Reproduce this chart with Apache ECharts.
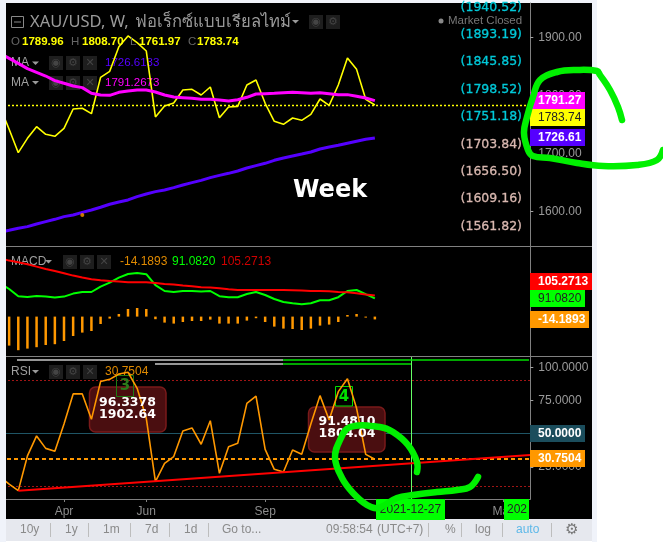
<!DOCTYPE html>
<html><head><meta charset="utf-8">
<style>
html,body{margin:0;padding:0;background:#fff;width:663px;height:542px;overflow:hidden}
#top{position:absolute;left:0;top:0;width:597px;height:3px;background:#f0f3fa}
#rgt{position:absolute;left:592px;top:0;width:5px;height:542px;background:#f0f3fa}
#blk{position:absolute;left:6px;top:3px;width:586px;height:516px;background:#000}
#bar{position:absolute;left:6px;top:519px;width:586px;height:22px;background:#e6e8ee}
#c{position:absolute;left:0;top:0;width:663px;height:542px}
</style></head><body>
<div id="top"></div><div id="rgt"></div><div id="blk"></div><div id="bar"></div>
<div id="c"></div>
<script src="https://cdn.jsdelivr.net/npm/echarts@6/dist/echarts.min.js"></script>
<script>
const weeks=['2021-02-15','2021-02-22','2021-03-01','2021-03-08','2021-03-15','2021-03-22','2021-03-29','2021-04-05','2021-04-12','2021-04-19','2021-04-26','2021-05-03','2021-05-10','2021-05-17','2021-05-24','2021-05-31','2021-06-07','2021-06-14','2021-06-21','2021-06-28','2021-07-05','2021-07-12','2021-07-19','2021-07-26','2021-08-02','2021-08-09','2021-08-16','2021-08-23','2021-08-30','2021-09-06','2021-09-13','2021-09-20','2021-09-27','2021-10-04','2021-10-11','2021-10-18','2021-10-25','2021-11-01','2021-11-08','2021-11-15','2021-11-22','2021-11-29','2021-12-06','2021-12-13','2021-12-20','2021-12-27','2022-01-03','2022-01-10','2022-01-17','2022-01-24','2022-01-31','2022-02-07','2022-02-14','2022-02-21','2022-02-28','2022-03-07','2022-03-14','2022-03-21','2022-03-28'];
const monthTicks={'2021-04-05':'Apr','2021-06-07':'Jun','2021-09-06':'Sep','2022-03-07':'Mar'};
const closeW=[1780.8,1741.7,1701.3,1726.1,1746.3,1733,1729.6,1743.4,1776.8,1778,1768.7,1831.5,1841.9,1884.5,1903,1891.4,1877,1763,1782,1787.2,1809.6,1810.8,1801,1814.8,1761.8,1780.2,1781.4,1818.3,1826.9,1786.6,1755.5,1750.3,1761.2,1757.2,1767.6,1794.1,1783.1,1818.3,1864.9,1845.3,1793.5,1783.74];
const maFast=[1873,1864.4,1855.7,1846.5,1840.2,1833.8,1825.8,1821.2,1816.5,1813.7,1803.9,1801,1800.4,1805.6,1807.9,1809.6,1809.6,1806.2,1801,1797.5,1796.4,1795.2,1793.5,1793.5,1792.4,1790.6,1792.9,1797,1802.7,1803.3,1803.9,1805,1805.6,1805,1803.9,1805,1803.3,1801.6,1801.6,1798.7,1795.8,1791.27];
const maSlow=[1563.7,1567.1,1570.6,1573.5,1578.1,1582.1,1586.1,1590.8,1593.6,1598.2,1602.3,1606.9,1612.1,1616.1,1619.6,1625.3,1629.9,1634,1636.8,1640.9,1645.5,1649.5,1653.5,1658.1,1662.1,1665.6,1669.7,1674.8,1678.9,1682.9,1688.1,1692.1,1695.6,1699,1702.5,1707.7,1711.1,1714,1717.5,1721,1724.4,1726.61];
const dotMark=[null,null,null,null,null,null,null,null,null,1593.6];
const macdHist=[null,-145,-168,-160,-153,-142,-138,-122,-97,-80,-72,-37,-10,13,38,43,38,-13,-30,-35,-27,-22,-22,-15,-35,-35,-35,-20,-8,-27,-50,-60,-62,-67,-60,-45,-40,-27,8,13,-5,-14.19];
const macdLine=[167,138,102,98,103,100,95,100,115,123,123,150,170,195,213,218,212,157,128,123,128,128,125,128,102,97,97,113,123,108,88,73,67,62,67,82,82,97,128,133,112,91.08];
const macdSignal=[292,280,272,262,250,238,228,217,205,195,187,182,178,175,172,172,172,168,163,160,155,152,147,145,142,137,133,133,133,133,133,133,132,130,128,128,127,123,122,117,110,105.27];
const rsiValues=[17.6,12,7,33.2,48.3,38.9,36.7,57.3,80,80,60.8,89.3,91,95,96.34,84.2,61.6,13.8,27.6,32.7,52,54.3,42,59.8,20.1,40.2,42.7,72.9,78.4,38.2,23.1,21.1,37.7,34.4,57.3,78.7,60.3,81.7,91.48,69.1,34.4,30.75];
const rsiTrend=weeks.map(function(w,i){return i===2?7:(i===58?33.9:null);});
const priceTicks=[1600,1700,1800,1900];
const rsiTicks=[25,50,75,100];
const fibLabels=[['(1940.52)',8,'#00c9d9'],['(1893.19)',35,'#00c9d9'],['(1845.85)',62,'#00c9d9'],['(1798.52)',90,'#00c9d9'],['(1751.18)',117,'#00c9d9'],['(1703.84)',145,'#d9b8b0'],['(1656.50)',172,'#d9b8b0'],['(1609.16)',199,'#d9b8b0'],['(1561.82)',227,'#d9b8b0']];

const SANS='"Liberation Sans",Arial,sans-serif';
const G=[];
function T(x,y,s,c,size,o){o=o||{};G.push({type:'text',z:o.z||100,x:x,y:y,silent:true,style:{text:s,fill:c,font:(o.w||'normal')+' '+size+'px '+(o.f||SANS),textAlign:o.a||'left',textVerticalAlign:'middle',stroke:o.st||null,lineWidth:o.sw||0}});}
function R(x,y,w,h,c,o){o=o||{};G.push({type:'rect',z:o.z||90,silent:true,shape:{x:x,y:y,width:w,height:h,r:o.r||0},style:{fill:c,stroke:o.s||null,lineWidth:o.lw||0}});}
function L(x1,y1,x2,y2,c,w,z){G.push({type:'line',z:z||80,silent:true,shape:{x1:x1,y1:y1,x2:x2,y2:y2},style:{stroke:c,lineWidth:w||1}});}
function TRI(x,y){G.push({type:'polygon',z:1,silent:true,shape:{points:[[x,y],[x+7,y],[x+3.5,y+3.5]]},style:{fill:'#999'}});}
function BTN(x,y,g){R(x,y,14,14,'#1e1e1e',{z:1});T(x+7,y+7,g,'#444',11,{a:'center',f:'"DejaVu Sans"',z:1});}

// left page strip covers the clipped first segment
R(0,0,6,542,'#f0f3fa',{z:150});
// panel rules
L(6,246.5,592,246.5,'#808080',1);L(6,356.5,592,356.5,'#808080',1);
// header main
G.push({type:'rect',z:100,silent:true,shape:{x:11.5,y:16.5,width:12,height:11},style:{fill:null,stroke:'#888',lineWidth:1}});
L(14,22,21,22,'#888',1,101);
T(30,22,'XAU/USD, W,','#9a9a9a',16.5,{f:'"Noto Sans","DejaVu Sans",sans-serif'});
T(135,22,'ฟอเร็กซ์แบบเรียลไทม์','#9a9a9a',16.6,{f:'"Noto Sans","DejaVu Sans",sans-serif'});
TRI(292,20);BTN(309,15,'◉');BTN(326,15,'⚙');
[['O',11,'#666'],['1789.96',22,'#ff0'],['H',71,'#666'],['1808.70',82,'#ff0'],['L',130,'#666'],['1761.97',139,'#ff0'],['C',188,'#666'],['1783.74',197,'#ff0']].forEach(function(a){T(a[1],42,a[0],a[2],11.5,{w:a[2]==='#ff0'?'bold':'normal'});});
T(11,63,'MA','#a0a0a0',12,{z:1});TRI(32,61.5);BTN(49,56,'◉');BTN(66,56,'⚙');BTN(83,56,'✕');T(105,63,'1726.6133','#5500ff',11.5,{z:1});
T(11,82.5,'MA','#a0a0a0',12,{z:1});TRI(32,81);BTN(49,76,'◉');BTN(66,76,'⚙');BTN(83,76,'✕');T(105,82.5,'1791.2673','#ff00ff',11.5,{z:1});
G.push({type:'circle',z:100,silent:true,shape:{cx:441,cy:21,r:2.5},style:{fill:'#888'}});
T(448,21,'Market Closed','#777',11.5);
fibLabels.forEach(function(a){T(522,a[1],a[0],a[2],12.5,{a:'right',f:'"DejaVu Sans"',st:a[2],sw:0.3});});
T(293,191,'Week','#fff',24,{f:'"DejaVu Sans"',w:'bold'});
// MACD header
T(11,262,'MACD','#a0a0a0',12,{z:1});TRI(45,260);BTN(63,255,'◉');BTN(80,255,'⚙');BTN(97,255,'✕');
T(120,262,'-14.1893','#e08a00',12);T(172,262,'91.0820','#00ff00',12);T(221,262,'105.2713','#d00000',12);
// RSI header
T(11,372,'RSI','#a0a0a0',12,{z:1});TRI(32,370);BTN(49,365,'◉');BTN(66,365,'⚙');BTN(83,365,'✕');T(105,372,'30.7504','#e08a00',12,{z:1});
// RSI top rows
L(17,360,283,360,'#c8c8c8',1.5);L(283,360,529,360,'#00e000',1.5);
L(155,364,283,364,'#c8c8c8',1.5);L(283,364,411,364,'#00e000',1.5);
// peak boxes
R(89.5,387,76.5,45,'#4a0e10',{r:6,s:'#7a1a1a',lw:1.5,z:40});
T(127.5,402.5,'96.3378','#fff',12.5,{a:'center',w:'bold',f:'"DejaVu Sans"',z:70});
T(127.5,414.5,'1902.64','#fff',12.5,{a:'center',w:'bold',f:'"DejaVu Sans"',z:70});
R(308.5,407,76.5,45,'#4a0e10',{r:6,s:'#7a1a1a',lw:1.5,z:40});
T(347,422,'91.4810','#fff',12.5,{a:'center',w:'bold',f:'"DejaVu Sans"',z:70});
T(347,434,'1804.04','#fff',12.5,{a:'center',w:'bold',f:'"DejaVu Sans"',z:70});
G.push({type:'rect',z:42,silent:true,shape:{x:116.5,y:375.5,width:17,height:21},style:{fill:null,stroke:'#1f7a12',lineWidth:1}});
T(125,386,'3','#2a7a1a',15,{a:'center',w:'bold',f:'"DejaVu Sans"',z:42});
G.push({type:'rect',z:42,silent:true,shape:{x:335.5,y:386.5,width:17,height:19.5},style:{fill:null,stroke:'#00e000',lineWidth:1}});
T(344,397,'4','#00e000',15,{a:'center',w:'bold',f:'"DejaVu Sans"',z:42});
// price tags
function TAG(x,y,w,h,bg,s,c){R(x,y,w,h,bg);T(x+8,y+h/2+.5,s,c,12,{w:c==='#fff'?'bold':'normal',z:91});}
TAG(530,92,55,17,'#ff00ff','1791.27','#fff');
TAG(530,109,55,17,'#ffff00','1783.74','#222');
TAG(530,129,55,17,'#5500ff','1726.61','#fff');
TAG(530,273,62,17,'#ff0000','105.2713','#fff');
TAG(530,290,55,17,'#00ff00','91.0820','#222');
TAG(530,311,59,17,'#ff9800','-14.1893','#fff');
TAG(530,425,55,17,'#1b4d5c','50.0000','#fff');
TAG(530,450,55,17,'#ff9800','30.7504','#fff');
// date tags
R(376,499,69,21,'#00ff00');T(410.5,510,'2021-12-27','#222',12,{a:'center',z:91});
R(504,499,25,21,'#00ff00');T(507,510,'202','#222',12,{z:91});
// toolbar
[['10y',20],['1y',65],['1m',103],['7d',145],['1d',184],['Go to...',222],['09:58:54',326],['(UTC+7)',377],['%',445],['log',475]].forEach(function(a){T(a[1],530,a[0],'#8a8a8a',12);});
T(516,530,'auto','#5db8e8',12);
[50,88,130,169,208,428,461,502,551].forEach(function(x){L(x+.5,523,x+.5,537,'#bdbdbd',1);});
T(572,530,'⚙','#777',15,{a:'center',f:'"DejaVu Sans"'});
// hand-drawn green strokes
function STROKE(pts){G.push({type:'polyline',z:200,silent:true,shape:{points:pts,smooth:0.4},style:{stroke:'#00f000',fill:null,lineWidth:6.5,lineCap:'round',lineJoin:'round'}});}
STROKE([[622,120],[618,107],[610,90],[600,75],[597,71],[577,70],[557,72],[540,80],[533,97],[527,117],[524,133],[528,150],[533,156],[550,158],[577,163],[603,166],[637,165],[657,160],[663,150]]);
STROKE([[417,472],[417,462],[408,445],[393,432],[380,427],[350,427],[340,440],[335,458],[342,478],[353,493],[367,505],[378,508],[397,498],[413,495],[437,492],[457,490],[470,487],[478,477]]);

const showMonth=function(i,v){return monthTicks[v]!==undefined;};
const GL={left:-1,width:531.3};
const axisGray={lineStyle:{color:'#808080',width:1}};
function none(){return {symbol:'none',showSymbol:false,animation:false};}
const chart=echarts.init(document.getElementById('c'),null,{renderer:'canvas'});
chart.setOption({
 animation:false,backgroundColor:'transparent',
 grid:[Object.assign({top:3,height:243},GL),Object.assign({top:247,height:109},GL),Object.assign({top:356,height:143},GL)],
 xAxis:[0,1].map(function(i){return {type:'category',gridIndex:i,data:weeks,boundaryGap:false,show:false};}).concat([{type:'category',gridIndex:2,data:weeks,boundaryGap:false,
  axisLine:{show:true,lineStyle:{color:'#808080'}},axisTick:{show:true,interval:showMonth,length:3,lineStyle:{color:'#808080'}},
  axisLabel:{show:true,interval:showMonth,formatter:function(v){return monthTicks[v]||'';},color:'#8c8c8c',fontSize:12,margin:7,fontFamily:SANS,hideOverlap:false},splitLine:{show:false}}]),
 yAxis:[
  {type:'value',gridIndex:0,position:'right',min:1540,max:1960,scale:true,splitLine:{show:false},axisLine:Object.assign({show:true},axisGray),
   axisTick:{show:true,length:3,customValues:priceTicks,lineStyle:{color:'#a0a0a0'}},
   axisLabel:{customValues:priceTicks,formatter:function(v){return v.toFixed(2);},color:'#9a9a9a',fontSize:12,margin:8,fontFamily:SANS}},
  {type:'value',gridIndex:1,position:'right',min:-197,max:348,splitLine:{show:false},axisLine:Object.assign({show:true},axisGray),axisTick:{show:false},axisLabel:{show:false}},
  {type:'value',gridIndex:2,position:'right',min:0.7,max:108.6,splitLine:{show:false},axisLine:Object.assign({show:true},axisGray),
   axisTick:{show:true,length:3,customValues:rsiTicks,lineStyle:{color:'#a0a0a0'}},
   axisLabel:{customValues:rsiTicks,formatter:function(v){return v.toFixed(4);},color:'#9a9a9a',fontSize:12,margin:8,fontFamily:SANS}}
 ],
 graphic:{elements:G},
 series:[
  Object.assign(none(),{type:'line',name:'Close',xAxisIndex:0,yAxisIndex:0,data:closeW,z:3,lineStyle:{color:'#ffff00',width:1.6},
    markLine:{silent:true,symbol:'none',animation:false,label:{show:false},lineStyle:{color:'#ffff00',type:[2,2],width:1.3},data:[{yAxis:1783.74}]}}),
  Object.assign(none(),{type:'line',name:'MA 1',xAxisIndex:0,yAxisIndex:0,data:maSlow,z:4,lineStyle:{color:'#5500ff',width:3}}),
  Object.assign(none(),{type:'line',name:'MA 2',xAxisIndex:0,yAxisIndex:0,data:maFast,z:4,lineStyle:{color:'#ff00ff',width:3}}),
  {type:'scatter',name:'Dot',xAxisIndex:0,yAxisIndex:0,data:dotMark,z:5,symbolSize:4,itemStyle:{color:'#ff9800'},animation:false},
  {type:'bar',name:'Hist',xAxisIndex:1,yAxisIndex:1,data:macdHist,barWidth:2.5,z:2,itemStyle:{color:'#ff9800'},animation:false},
  Object.assign(none(),{type:'line',name:'MACD',xAxisIndex:1,yAxisIndex:1,data:macdLine,z:3,lineStyle:{color:'#00ff00',width:2}}),
  Object.assign(none(),{type:'line',name:'Signal',xAxisIndex:1,yAxisIndex:1,data:macdSignal,z:4,lineStyle:{color:'#ff0000',width:2}}),
  Object.assign(none(),{type:'line',name:'RSI',xAxisIndex:2,yAxisIndex:2,data:rsiValues,z:60,lineStyle:{color:'#ff9800',width:1.6},
    markLine:{silent:true,symbol:'none',animation:false,label:{show:false},z:3,data:[
      {yAxis:90,lineStyle:{color:'#a01515',type:[2,2],width:1}},
      {yAxis:10,lineStyle:{color:'#a01515',type:[2,2],width:1}},
      {yAxis:50,lineStyle:{color:'#1f5566',type:'solid',width:1}},
      {yAxis:30.75,lineStyle:{color:'#ff9800',type:[4,3],width:2}},
      {xAxis:'2021-12-27',lineStyle:{color:'#66ff66',type:'solid',width:1}}
    ]}}),
  Object.assign(none(),{type:'line',name:'Trend',xAxisIndex:2,yAxisIndex:2,data:rsiTrend,connectNulls:true,z:61,lineStyle:{color:'#ff0000',width:2}})
 ]
});
</script></body></html>
